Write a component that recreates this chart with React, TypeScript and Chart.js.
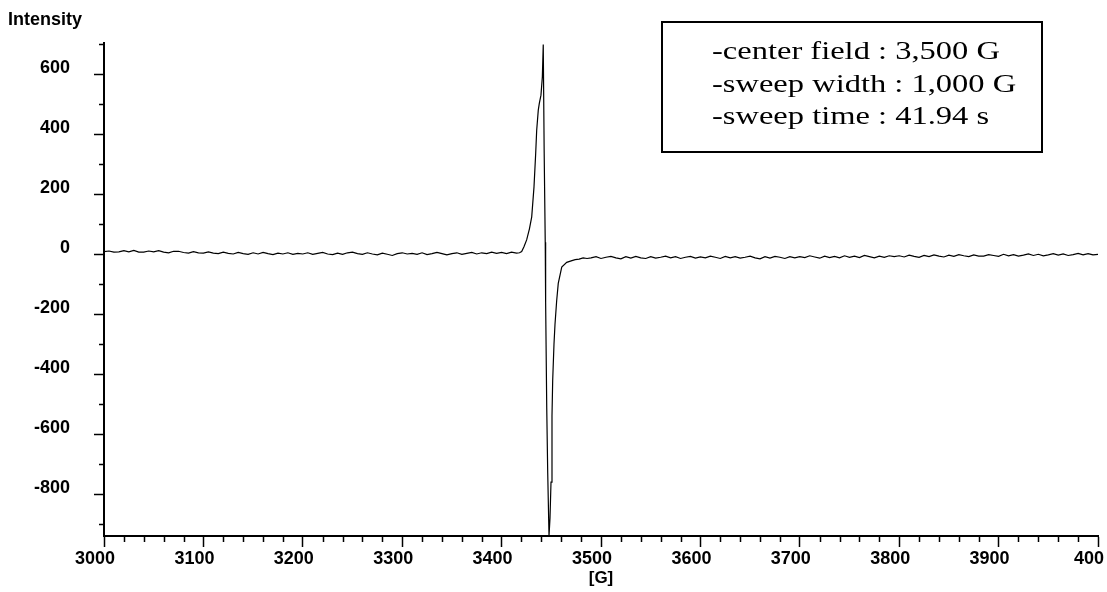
import React, { useEffect, useRef } from 'react';
import { Chart, registerables } from 'chart.js';

Chart.register(...registerables);

const FONT = '"Liberation Sans", Arial, sans-serif';
const SERIF = '"Liberation Serif", "Times New Roman", serif';

// x axis ticks and labels
const xTickValues = [3000, 3100, 3200, 3300, 3400, 3500, 3600, 3700, 3800, 3900, 4000];
const xTickLabels = ['3000', '3100', '3200', '3300', '3400', '3500', '3600', '3700', '3800', '3900', '400'];
// y axis ticks and labels
const yTickValues = [600, 400, 200, 0, -200, -400, -600, -800];
const yTickLabels = ['600', '400', '200', '0', '-200', '-400', '-600', '-800'];

const xTitle = '[G]';
const yTitle = 'Intensity';
const infoLines = ['-center field : 3,500 G', '-sweep width : 1,000 G', '-sweep time : 41.94 s'];

// baseline before the signal: sampled every 5 G starting at 3000 G
const LEFT_FIELD_START = 3000;
const FIELD_STEP = 5;
const leftBaseline = [
  9, 11, 7, 8, 12, 8, 13, 7, 7, 11, 8, 12, 7, 5, 10, 10, 6, 4, 9, 5,
  4, 8, 4, 2, 7, 3, 1, 6, 2, 0, 5, 1, 6, 2, -1, 4, 1, 5, 0, 3,
  1, 5, 0, 3, 6, 1, -1, 4, 0, 5, 7, 2, 0, 5, 1, -2, 4, 0, -4, 2,
  5, 1, 3, 0, 5, -1, 2, 6, 2, -2, 2, 5, 0, 3, 6, 1, 5, 2, 7, 3,
  6, 2, 7, 4,
];

// signal region (field in G, intensity)
const peakFields = [
  3418, 3420.2, 3422.5, 3425.2, 3428, 3430.3, 3432.6, 3434.3, 3435.3, 3436.9,
  3437.9, 3439.6, 3441, 3441.9, 3442.8, 3443.9, 3444.3, 3445.4, 3446.4, 3447.7,
  3448.7, 3449.7, 3450.7, 3451.4, 3452.7, 3453.7, 3455.4, 3457, 3460.5, 3465.5,
  3470, 3474, 3478, 3482, 3486,
];
const peakIntensity = [
  5, 9, 25, 48, 85, 125, 225, 337, 414, 481,
  503, 531, 592, 700, 350, 40, -160, -510, -730, -940,
  -880, -760, -540, -420, -300, -235, -155, -97, -43, -27,
  -22, -18, -16, -12, -14,
];

// baseline after the signal: sampled every 5 G starting at 3490 G
const RIGHT_FIELD_START = 3490;
const rightBaseline = [
  -12, -8, -14, -10, -7, -12, -15, -8, -13, -7, -12, -14, -8, -13, -10, -6, -12, -8, -14, -10, -7, -13,
  -9, -12, -6, -10, -14, -7, -12, -8, -13, -10, -6, -12, -15, -8, -13, -7, -10, -14, -8, -12,
  -8, -11, -5, -9, -13, -6, -11, -7, -12, -5, -10, -6, -11, -4, -8, -12, -6, -10, -5, -8,
  -5, -9, -3, -7, -10, -4, -8, -2, -6, -9, -3, -7, -1, -5, -8, -2, -6, -6, -1, -4,
  -7, 0, -5, -1, -6, -3, 1, -4, 0, -5, -2, 2, -3, 1, -4, -1, 3, -2, 2, -2, 0,
];

const X_MINOR_STEP = 20;
const Y_MINOR_STEP = 100;

function buildPoints() {
  const pts: { x: number; y: number }[] = [];
  leftBaseline.forEach((v, i) => pts.push({ x: LEFT_FIELD_START + i * FIELD_STEP, y: v }));
  peakFields.forEach((f, i) => pts.push({ x: f, y: peakIntensity[i] }));
  rightBaseline.forEach((v, i) => pts.push({ x: RIGHT_FIELD_START + i * FIELD_STEP, y: v }));
  return pts;
}

const decorPlugin = {
  id: 'decor',
  afterDraw(chart: any) {
    const { ctx, chartArea, scales } = chart;
    const x = scales.x;
    const y = scales.y;
    ctx.save();
    ctx.strokeStyle = '#000';
    ctx.lineWidth = 1.5;
    ctx.beginPath();
    for (let v = x.min; v <= x.max; v += X_MINOR_STEP) {
      if (v % 100 === 0) continue;
      const px = Math.round(x.getPixelForValue(v)) + 0.5;
      ctx.moveTo(px, chartArea.bottom);
      ctx.lineTo(px, chartArea.bottom + 6);
    }
    for (let v = -900; v <= y.max; v += Y_MINOR_STEP) {
      if (v % 200 === 0) continue;
      const py = Math.round(y.getPixelForValue(v)) + 0.5;
      ctx.moveTo(chartArea.left, py);
      ctx.lineTo(chartArea.left - 5, py);
    }
    ctx.stroke();

    // info box
    ctx.fillStyle = '#fff';
    ctx.fillRect(662, 22, 380, 130);
    ctx.lineWidth = 2;
    ctx.strokeRect(662, 22, 380, 130);
    ctx.fillStyle = '#000';
    ctx.font = '26px ' + SERIF;
    ctx.textBaseline = 'alphabetic';
    ctx.textAlign = 'left';
    const sx = 1.25;
    ctx.scale(sx, 1);
    infoLines.forEach((t, i) => ctx.fillText(t, 712 / sx, 59 + i * 32.5));
    ctx.restore();
  },
};

export default function App() {
  const ref = useRef<HTMLCanvasElement | null>(null);
  useEffect(() => {
    if (!ref.current) return;
    const chart = new Chart(ref.current, {
      type: 'line',
      data: {
        datasets: [
          {
            data: buildPoints(),
            borderColor: '#000',
            borderWidth: 1.2,
            pointRadius: 0,
            tension: 0,
            fill: false,
          },
        ],
      },
      options: {
        animation: false,
        responsive: false,
        layout: { padding: { left: 8, right: 9, top: 0, bottom: 0 } },
        plugins: {
          legend: { display: false },
          tooltip: { enabled: false },
          title: {
            display: true,
            text: yTitle,
            align: 'start',
            color: '#000',
            font: { family: FONT, size: 18, weight: 'bold' },
            padding: { top: 9, bottom: 12.4 },
          },
        },
        scales: {
          x: {
            type: 'linear',
            min: 3000,
            max: 4000,
            afterBuildTicks: (s: any) => {
              s.ticks = xTickValues.map((v) => ({ value: v }));
            },
            afterFit: (s: any) => {
              s.height = 56;
              s.paddingLeft = 0;
              s.paddingRight = 0;
            },
            ticks: {
              callback: (_v: any, i: number) => xTickLabels[i],
              color: '#000',
              font: { family: FONT, size: 18, weight: 'bold' },
              padding: 1,
              labelOffset: -9,
              maxRotation: 0,
              autoSkip: false,
            },
            grid: {
              drawOnChartArea: false,
              drawTicks: true,
              tickLength: 11,
              tickColor: '#000',
              tickWidth: 1.5,
            },
            border: { display: true, color: '#000', width: 2 },
            title: {
              display: true,
              text: xTitle,
              color: '#000',
              font: { family: FONT, size: 17, weight: 'bold' },
              padding: { top: 0, bottom: 3 },
            },
          },
          y: {
            type: 'linear',
            min: -940,
            max: 705,
            afterBuildTicks: (s: any) => {
              s.ticks = yTickValues.map((v) => ({ value: v }));
            },
            afterFit: (s: any) => {
              s.width = 96;
              s.paddingTop = 0;
              s.paddingBottom = 0;
            },
            ticks: {
              callback: (_v: any, i: number) => yTickLabels[i],
              color: '#000',
              font: { family: FONT, size: 18, weight: 'bold' },
              padding: 24,
              labelOffset: -6,
              autoSkip: false,
            },
            grid: {
              drawOnChartArea: false,
              drawTicks: true,
              tickLength: 10,
              tickColor: '#000',
              tickWidth: 1.5,
            },
            border: { display: true, color: '#000', width: 2 },
          },
        },
      },
      plugins: [decorPlugin],
    } as any);
    return () => chart.destroy();
  }, []);
  return (
    <div style={{ position: 'absolute', left: 0, top: 0, width: 1107, height: 592, background: '#fff' }}>
      <canvas ref={ref} width={1107} height={592} style={{ display: 'block' }} />
    </div>
  );
}
